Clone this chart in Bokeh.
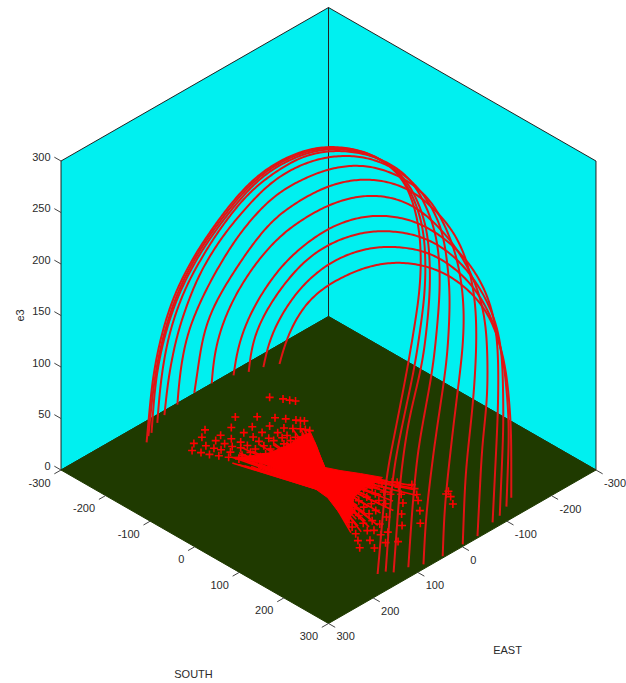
import math
import numpy as np
from bokeh.plotting import figure
from bokeh.models import Range1d
from bokeh.core.properties import value
from bokeh.embed import file_html
from bokeh.resources import INLINE

# Axis ticks
south_ticks = [-300, -200, -100, 0, 100, 200, 300]
east_ticks = [-300, -200, -100, 0, 100, 200, 300]
height_ticks = [0, 50, 100, 150, 200, 250, 300]

# Field lines: one east value per line, south and height along it
line_east = [150, 144, 138, 120, 105, 80, 50, 20, -20, -70, -110, -150]
south_0 = [-258,-245,-227,-198,-148,-70,-3,94,152,244,318,350,359,356,329,300,280,260]
height_0 = [0,66,110,158,212,279,327,373,391,408,404,373,342,300,222,150,103,0]
south_1 = [-260,-247,-229,-199,-150,-72,-4,92,146,238,312,355,362,362,339,310,288,272]
height_1 = [4,64,107,156,210,276,325,370,387,405,401,369,342,300,223,158,104,3]
south_2 = [-259,-250,-232,-201,-151,-75,-6,91,140,232,311,356,365,367,351,317,300,284]
height_2 = [6,62,105,154,208,272,322,367,383,401,399,368,341,300,228,161,105,5]
south_3 = [-264,-257,-239,-201,-133,-55,57,122,214,304,356,369,371,356,320,308,299]
height_3 = [10,53,103,159,226,289,350,372,391,393,360,335,296,221,128,70,9]
south_4 = [-263,-256,-234,-187,-126,-25,42,107,199,296,361,379,372,341,323,318]
height_4 = [14,49,103,170,227,301,334,359,381,383,355,294,228,130,60,13]
south_5 = [-259,-256,-241,-218,-185,-122,-39,82,174,264,316,367,385,383,358,340,336]
height_5 = [19,43,89,120,158,219,280,335,361,367,360,324,280,238,144,68,18]
south_6 = [-251,-246,-233,-208,-165,-129,-69,52,144,227,279,339,369,382,382,375,357,351]
height_6 = [25,38,87,122,162,195,243,304,333,345,340,326,298,265,223,173,98,26]
south_7 = [-242,-240,-229,-211,-177,-137,-81,22,114,204,249,309,350,372,377,377,365,354]
height_7 = [29,52,77,104,141,176,217,270,303,317,312,298,276,249,214,166,124,27]
south_8 = [-233,-229,-211,-177,-116,-18,74,171,247,299,328,352,361,361,359,348]
height_8 = [29,51,81,119,171,228,263,282,281,270,257,235,204,152,129,30]
south_9 = [-249,-245,-223,-182,-122,-68,24,136,204,249,282,309,320,323,314]
height_9 = [16,45,73,112,158,187,223,246,246,236,222,202,178,108,15]
south_10 = [-256,-251,-229,-206,-177,-108,-16,103,164,209,253,283,296,289]
height_10 = [9,29,58,79,106,149,187,214,214,208,190,154,91,8]
south_11 = [-260,-255,-246,-202,-168,-148,-56,-4,63,124,175,213,247,260,260]
height_11 = [1,15,30,77,97,108,149,165,179,184,178,168,130,73,0]
line_south = [south_0, south_1, south_2, south_3, south_4, south_5, south_6, south_7, south_8, south_9, south_10, south_11]
line_height = [height_0, height_1, height_2, height_3, height_4, height_5, height_6, height_7, height_8, height_9, height_10, height_11]

# Footpoints on the ground, two lobes
lobe_a_south = [-208,-190,-180,-172,-208,-184,-162,-148,-134,-128,-123,-217,-192,-170,-152,-132,-121,-112,-105,-98,-206,-189,-168,-148,-130,-114,-101,-94,-203,-184,-170,-149,-129,-115,-100,-89,-191,-185,-168,-153,-134,-119,-101,-177,-171,-154,-139,-120,-164,-160,-142,-123,-106,-151,-145,-122,-102,-90,-137,-126,-103,-85,-122]
lobe_a_east = [-76,-88,-93,-98,1,-24,-42,-52,-61,-65,-69,60,26,1,-20,-32,-41,-49,-53,-56,78,53,22,1,-16,-21,-27,-35,99,69,48,20,5,-11,-15,-19,115,90,65,44,22,4,-1,109,86,62,43,25,103,81,55,41,24,95,75,53,39,21,87,68,53,38,79]
lobe_b_south = [206,189,176,179,207,182,160,147,133,122,191,168,148,129,112,101,218,206,188,185,163,157,130,117,105,95,87,204,184,169,187,171,155,138,125,162,143,123,105,91,148,131,112,94,132,114,96,76,116,99,83,67]
lobe_b_east = [-73,-85,-93,-85,1,-23,-41,-51,-60,-65,26,4,-19,-34,-45,-53,62,78,55,68,48,27,2,-22,-19,-48,-33,101,91,67,117,105,94,85,79,75,65,55,46,41,50,40,33,26,26,18,10,-3,3,-6,-15,-20]
neck_south = [-93,-61,-35,-9,14,43,75,78,74,82,110,126,89,53,17,-9,-74,-109,-134,-117,-99,-94,-97]
neck_east = [-53,-34,-17,-1,-12,-29,-46,-21,-2,26,56,83,69,55,51,54,56,72,85,64,31,-9,-34]

CX, CY, A, B, K = 328.0, 469.5, 0.4458, 0.2558, 1.03
def proj(s, e, z=0.0):
    return CX + (s - e) * A, CY + (s + e) * B - z * K

def smooth(pts, sigma=20.0):
    q = np.array(pts, float)
    d = np.r_[0, np.cumsum(np.hypot(*np.diff(q, axis=0).T))]
    tt = np.arange(0, d[-1] + 1e-6, 2.0)
    xy = np.c_[np.interp(tt, d, q[:, 0]), np.interp(tt, d, q[:, 1])]
    pad = int(3 * sigma / 2) + 1
    big = np.vstack([2 * xy[0] - xy[1:pad + 1][::-1], xy, 2 * xy[-1] - xy[-pad - 1:-1][::-1]])
    ker = np.exp(-0.5 * (np.arange(-pad, pad + 1) * 2.0 / sigma) ** 2)
    ker /= ker.sum()
    sm = np.c_[np.convolve(big[:, 0], ker, "same"), np.convolve(big[:, 1], ker, "same")][pad:-pad]
    return sm[:, 0].tolist(), sm[:, 1].tolist()

p = figure(width=626, height=683, x_range=Range1d(0, 626), y_range=Range1d(683, 0), toolbar_location=None,
           output_backend="svg", min_border=0, outline_line_color=None)
p.axis.visible = False
p.grid.visible = False

def P(*t):
    q = [proj(*a) for a in t]
    return [a for a, b in q], [b for a, b in q]

WALL = "#00f0f0"
EDGE = "#222222"
p.patch(*P((-300,300,0),(-300,-300,0),(-300,-300,300),(-300,300,300)), fill_color=WALL, line_color=EDGE, line_width=1)
p.patch(*P((-300,-300,0),(300,-300,0),(300,-300,300),(-300,-300,300)), fill_color=WALL, line_color=EDGE, line_width=1)
p.patch(*P((-300,-300,0),(300,-300,0),(300,300,0),(-300,300,0)), fill_color="#1f3a00", line_color="#1f3a00", line_width=1)

FONT = value("Liberation Sans")
TXT = "#2a2a2a"
def label(x, y, s, align="center", angle=0.0):
    p.text([x], [y], text=[s], angle=[angle], text_font=FONT, text_font_size="11px", text_color=TXT,
           text_align=align, text_baseline="middle")

tx, ty = [], []
def tk(a, b):
    tx.append([a[0], b[0]]); ty.append([a[1], b[1]])
for v in south_ticks:
    a = proj(v, 300); tk(a, proj(v, 315))
    label(a[0] - 10.5, a[1] + 12.5, str(v), "right")
for v in east_ticks:
    a = proj(300, v); tk(a, proj(315, v))
    label(a[0] + 8, a[1] + 13, str(v), "left")
for v in height_ticks:
    a = proj(-300, 300, v); tk(a, proj(-315, 300, v))
    label(a[0] - 10.5, a[1] - 4.5, str(v), "right")
p.multi_line(tx, ty, line_color="#444444", line_width=1)
label(193, 673, "SOUTH")
label(507, 649, "EAST")
label(19, 315, "e3", angle=math.pi / 2)

fan = [proj(a, b) for a, b in zip(neck_south, neck_east)]
p.patch([a for a, b in fan], [b for a, b in fan], fill_color="#ff0000", line_color="#ff0000")

rx, ry = [], []
for a, b in zip(lobe_a_south, lobe_a_east):
    m = proj(a, b)
    ang = math.degrees(math.atan2(480 - m[1], 325 - m[0]))
    u = min(max(ang / 70, 0), 1)
    n = (326 - u * 2, 497 - 30 * u)
    f = 0.58 if m[1] < 425 else 0.7
    rx.append([n[0], n[0] + f * (m[0] - n[0])]); ry.append([n[1], n[1] + f * (m[1] - n[1])])
for a, b in zip(lobe_b_south, lobe_b_east):
    m = proj(a, b)
    ang = math.degrees(math.atan2(m[1] - 480, m[0] - 330))
    u = min(max(ang / 66, 0), 1)
    n = (330, 470 + 27 * u)
    rx.append([n[0], n[0] + 0.7 * (m[0] - n[0])]); ry.append([n[1], n[1] + 0.7 * (m[1] - n[1])])
p.multi_line(rx, ry, line_color="#ff0000", line_width=1.6)

mk = [proj(a, b) for a, b in zip(lobe_a_south + lobe_b_south, lobe_a_east + lobe_b_east)]
p.scatter([a for a, b in mk], [b for a, b in mk], marker="cross", size=8, line_color="#ff0000", line_width=1.6)

xs, ys = [], []
for s, z, e in zip(line_south, line_height, line_east):
    cx, cy = smooth([proj(a, e, b) for a, b in zip(s, z)])
    xs.append(cx); ys.append(cy)
p.multi_line(xs, ys, line_color="#e01414", line_width=2, line_join="round")

open("out.html", "w").write(file_html(p, INLINE))
